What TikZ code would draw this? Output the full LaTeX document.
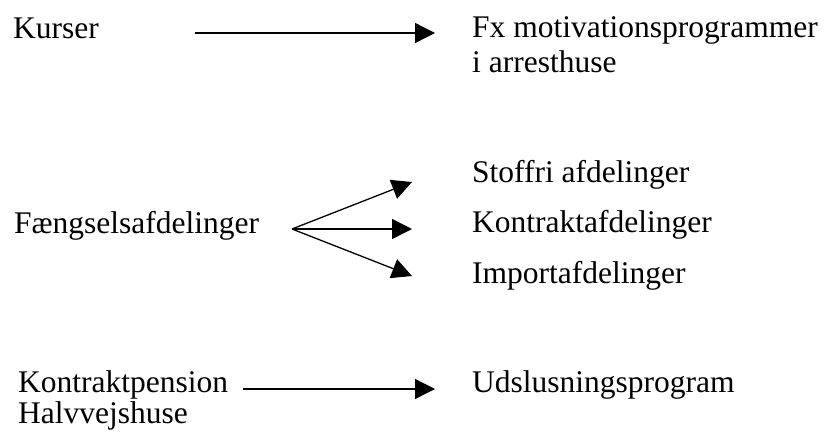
\documentclass[tikz,border=0pt]{standalone}
\usepackage{fontspec}
\setmainfont{Liberation Serif}
\usetikzlibrary{positioning}
\usetikzlibrary{arrows.meta}

\begin{document}
\begin{tikzpicture}[x=1pt,y=-1pt,
  lbl/.style={anchor=base west,inner sep=0pt,align=left,font=\fontsize{31.5}{35}\selectfont},
  pil/.style={line width=1.3pt,-{Triangle[length=20pt,width=20pt]}}]
\useasboundingbox (0,0) rectangle (824,432);

% two-line nodes sit on their last line
\node [lbl] (kurser) at (13,38) {Kurser};
\node [lbl] (fx) at (472,72) {Fx motivationsprogrammer\\i arresthuse};
\node [lbl] (faengsel) at (14,233) {Fængselsafdelinger};
\node [lbl] (stoffri) at (472,182) {Stoffri afdelinger};
\node [lbl] (kontrakt) at (472,232) {Kontraktafdelinger};
\node [lbl] (import) at (472,283) {Importafdelinger};
\node [lbl] (pension) at (18,423) {Kontraktpension\\[-4pt]Halvvejshuse};
\node [lbl] (udsl) at (472,392) {Udslusningsprogram};

\coordinate (k1) at (195,33);
\coordinate (k2) at (435,33);
\coordinate (fork) at (292,229);
\coordinate (s) at (412,182);
\coordinate (m) at (412,229);
\coordinate (i) at (412,276);
\coordinate (p1) at (243,389);
\coordinate (p2) at (435,389);

\draw [pil] (k1) -- (k2);
\draw [pil] (fork) -- (s);
\draw [pil] (fork) -- (m);
\draw [pil] (fork) -- (i);
\draw [pil] (p1) -- (p2);

\end{tikzpicture}
\end{document}
